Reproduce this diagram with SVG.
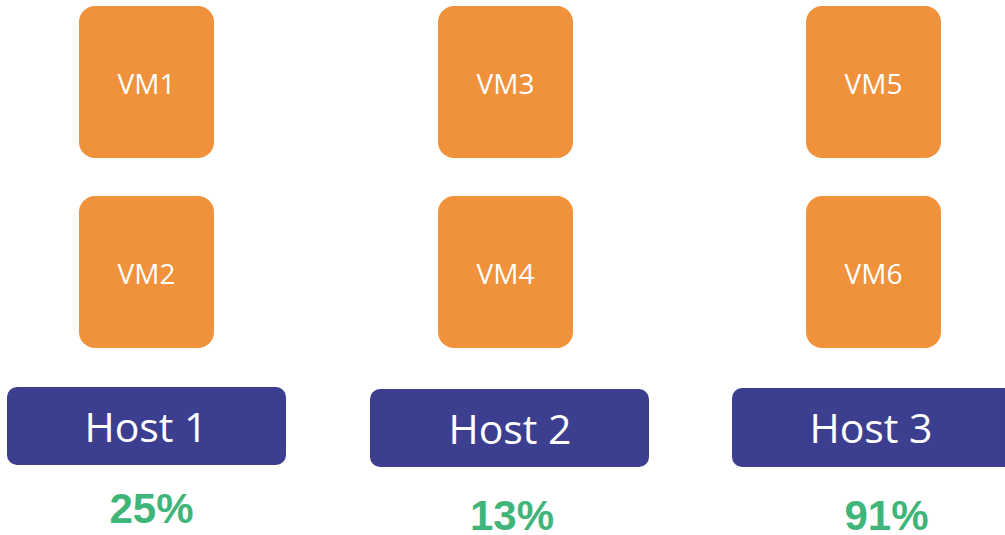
<svg xmlns="http://www.w3.org/2000/svg" width="1005" height="535" viewBox="0 0 1005 535">
<style>
.vm{fill:#F0913C;}
.host{fill:#3C3E8F;}
.vt{font-family:"Open Sans","Liberation Sans",sans-serif;font-size:28px;fill:#fff;text-anchor:middle;}
.ht{font-family:"Open Sans","Liberation Sans",sans-serif;font-size:41px;fill:#fff;text-anchor:middle;}
.pt{font-family:"Liberation Sans",Arial,sans-serif;font-size:42px;font-weight:bold;fill:#3FB57A;text-anchor:middle;}
</style>
<rect width="1005" height="535" fill="#fff"/>
<g id="vm1"><rect class="vm" x="79" y="6" width="135" height="152" rx="16"/><text class="vt" x="146.5" y="94">VM1</text></g>
<g id="vm2"><rect class="vm" x="79" y="196" width="135" height="152" rx="16"/><text class="vt" x="146.5" y="284">VM2</text></g>
<g id="vm3"><rect class="vm" x="438" y="6" width="135" height="152" rx="16"/><text class="vt" x="505.5" y="94">VM3</text></g>
<g id="vm4"><rect class="vm" x="438" y="196" width="135" height="152" rx="16"/><text class="vt" x="505.5" y="284">VM4</text></g>
<g id="vm5"><rect class="vm" x="806" y="6" width="135" height="152" rx="16"/><text class="vt" x="873.5" y="94">VM5</text></g>
<g id="vm6"><rect class="vm" x="806" y="196" width="135" height="152" rx="16"/><text class="vt" x="873.5" y="284">VM6</text></g>
<g id="host1"><rect class="host" x="7" y="387" width="279" height="78" rx="10"/><text class="ht" x="146" y="442">Host 1</text></g>
<g id="host2"><rect class="host" x="370" y="389" width="279" height="78" rx="10"/><text class="ht" x="510" y="444">Host 2</text></g>
<g id="host3"><rect class="host" x="732" y="388" width="285" height="79" rx="10"/><text class="ht" x="871" y="443">Host 3</text></g>
<g id="pct1"><text class="pt" x="151.5" y="523">25%</text></g>
<g id="pct2"><text class="pt" x="512" y="530">13%</text></g>
<g id="pct3"><text class="pt" x="886.5" y="530">91%</text></g>
<g id="connectors"></g>
</svg>
